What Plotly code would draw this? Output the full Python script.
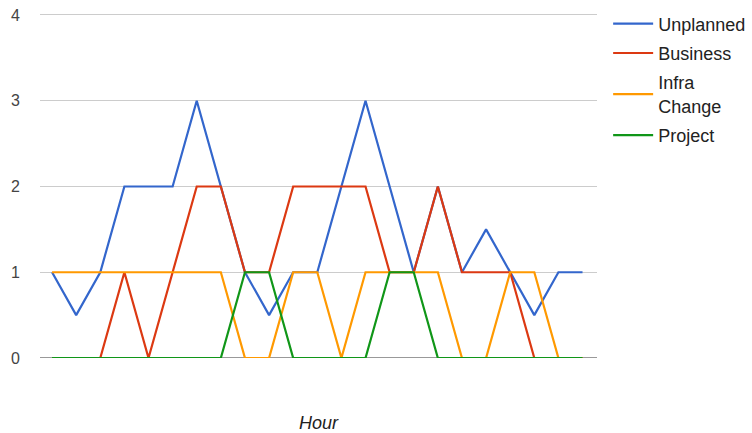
import plotly.graph_objects as go

# Hourly counts per change type
hours = [0, 1, 2, 3, 4, 5, 6, 7, 8, 9, 10, 11, 12, 13, 14, 15, 16, 17, 18, 19, 20, 21, 22]
unplanned = [1, 0.5, 1, 2, 2, 2, 3, 2, 1, 0.5, 1, 1, 2, 3, 2, 1, 2, 1, 1.5, 1, 0.5, 1, 1]
business = [0, 0, 0, 1, 0, 1, 2, 2, 1, 1, 2, 2, 2, 2, 1, 1, 2, 1, 1, 1, 0, 0, 0]
infra_change = [1, 1, 1, 1, 1, 1, 1, 1, 0, 0, 1, 1, 0, 1, 1, 1, 1, 0, 0, 1, 1, 0, 0]
project = [0, 0, 0, 0, 0, 0, 0, 0, 1, 1, 0, 0, 0, 0, 1, 1, 0, 0, 0, 0, 0, 0, 0]

series = [
    ("Unplanned", unplanned, "#3366cc"),
    ("Business", business, "#dc3912"),
    ("Infra<br>Change", infra_change, "#ff9900"),
    ("Project", project, "#109618"),
]

fig = go.Figure()
for name, values, color in series:
    fig.add_trace(go.Scatter(
        x=hours, y=values, name=name, mode="lines",
        line=dict(color=color, width=2.2),
        legendgroup=name,
    ))

fig.update_layout(
    width=752, height=433,
    margin=dict(l=40, r=155, t=13, b=75, autoexpand=False),
    paper_bgcolor="white", plot_bgcolor="white",
    font=dict(family="Liberation Sans, Arial, sans-serif", size=14, color="#222222"),
    showlegend=True,
    legend=dict(
        x=1.02, y=1.022, xanchor="left", yanchor="top",
        font=dict(size=18, color="#222222"),
        itemwidth=40,
        tracegroupgap=3,
        bgcolor="rgba(0,0,0,0)",
    ),
    xaxis=dict(
        range=[-0.5, 22.6], showticklabels=False, showgrid=False,
        zeroline=False, ticks="",
        title=dict(text="<i>Hour</i>", font=dict(size=18, color="#222222"), standoff=64),
    ),
    yaxis=dict(
        range=[0, 4.023], tickvals=[0, 1, 2, 3, 4], showgrid=True,
        gridcolor="#cccccc", gridwidth=1, zeroline=False,
        showline=False, ticks="", ticklabelstandoff=19,
        tickfont=dict(size=16, color="#444444"),
    ),
    shapes=[dict(type="line", xref="paper", yref="y", x0=0, x1=1, y0=0, y1=0,
                 line=dict(color="#333333", width=1), layer="below")],
)

fig.write_html("out.html")
